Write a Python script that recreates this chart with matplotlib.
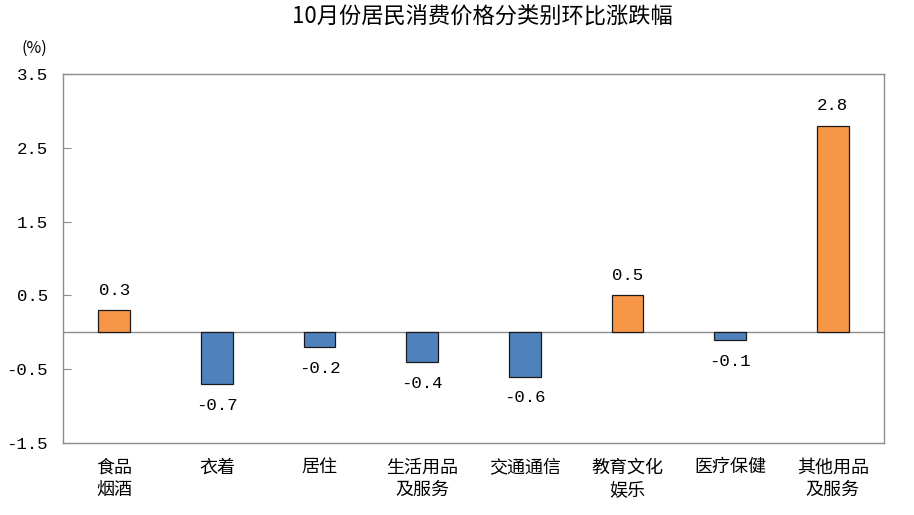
import matplotlib.pyplot as plt
import numpy as np

plt.rcParams['font.family'] = ['Noto Sans CJK SC', 'DejaVu Sans']

categories = ["食品\n烟酒", "衣着", "居住", "生活用品\n及服务", "交通通信",
              "教育文化\n娱乐", "医疗保健", "其他用品\n及服务"]
values = [0.3, -0.7, -0.2, -0.4, -0.6, 0.5, -0.1, 2.8]
yticks = [-1.5, -0.5, 0.5, 1.5, 2.5, 3.5]
title = "10月份居民消费价格分类别环比涨跌幅"

pos_color = "#F79646"
neg_color = "#4F81BD"
num_font = ["Liberation Mono", "DejaVu Sans Mono"]

fig = plt.figure(figsize=(9.14, 5.15), dpi=100)
ax = fig.add_axes([63 / 914, 1 - 443 / 515, 821 / 914, 369 / 515])

x = np.arange(len(categories))
colors = [pos_color if v >= 0 else neg_color for v in values]
ax.bar(x, values, width=0.31, color=colors, edgecolor="#1a1a1a", linewidth=0.9, zorder=3)
ax.axhline(0, color="#8c8c8c", linewidth=1.0, zorder=2)

for xi, v in zip(x, values):
    if v >= 0:
        ax.annotate(f"{v:.1f}", (xi, v), xytext=(0, 9), textcoords="offset points",
                    ha="center", va="bottom", fontsize=12.5, family=num_font)
    else:
        ax.annotate(f"{v:.1f}", (xi, v), xytext=(0, -10), textcoords="offset points",
                    ha="center", va="top", fontsize=12.5, family=num_font)

ax.set_xlim(-0.5, len(categories) - 0.5)
ax.set_ylim(-1.5, 3.5)
ax.set_yticks(yticks)
ax.set_yticklabels([f"{t:.1f}" for t in yticks], fontsize=12.5, family=num_font)
ax.tick_params(axis="y", direction="in", length=6, color="#8c8c8c", pad=11)
ax.set_xticks(x)
ax.set_xticklabels(categories, fontsize=13, linespacing=1.35)
ax.tick_params(axis="x", length=0, pad=11)
for spine in ax.spines.values():
    spine.set_color("#8c8c8c")
    spine.set_linewidth(1.0)

fig.text(34 / 914, 1 - 48 / 515, "(%)", ha="center", va="center", fontsize=11.5)
fig.text(482 / 914, 1 - 16 / 515, title, ha="center", va="center", fontsize=16)

fig.savefig("out.png", dpi=100)
